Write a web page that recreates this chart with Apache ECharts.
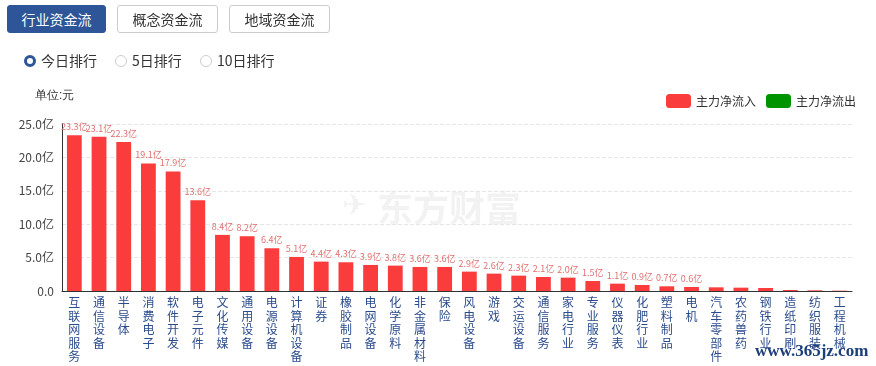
<!DOCTYPE html>
<html>
<head>
<meta charset="utf-8">
<script src="https://cdn.jsdelivr.net/npm/echarts@6/dist/echarts.min.js"></script>
<style>
html,body{margin:0;padding:0;background:#fff;font-family:"Noto Sans CJK SC","Microsoft YaHei",sans-serif;}
#wrap{position:relative;width:876px;height:366px;overflow:hidden;}
#chart{position:absolute;left:0;top:0;width:876px;height:366px;}
.btn{position:absolute;top:5px;height:28px;width:99px;border:1px solid #ccc;border-radius:3px;box-sizing:border-box;font-size:14px;line-height:26px;text-align:center;color:#333;background:#fff;}
.btn.on{background:#2e5597;border-color:#2e5597;color:#fff;}
.radio{position:absolute;top:51px;font-size:14px;color:#333;line-height:18px;}
.radio i{display:inline-block;width:12px;height:12px;border-radius:50%;border:1px solid #ccc;box-sizing:border-box;vertical-align:-1px;margin-right:5px;}
.radio.on i{border:3.5px solid #2e5597;}
</style>
</head>
<body>
<div id="wrap">
<div id="chart"></div>
<div class="btn on" style="left:7px">行业资金流</div>
<div class="btn" style="left:117px;width:101px">概念资金流</div>
<div class="btn" style="left:229px;width:101px">地域资金流</div>
<div class="radio on" style="left:24px"><i></i>今日排行</div>
<div class="radio" style="left:115px"><i></i>5日排行</div>
<div class="radio" style="left:200px"><i></i>10日排行</div>
</div>
<script>
var categories = ['互联网服务','通信设备','半导体','消费电子','软件开发','电子元件','文化传媒','通用设备','电源设备','计算机设备','证券','橡胶制品','电网设备','化学原料','非金属材料','保险','风电设备','游戏','交运设备','通信服务','家电行业','专业服务','仪器仪表','化肥行业','塑料制品','电机','汽车零部件','农药兽药','钢铁行业','造纸印刷','纺织服装','工程机械'];
var inflowValues = [23.3,23.1,22.3,19.1,17.9,13.6,8.4,8.2,6.4,5.1,4.4,4.3,3.9,3.8,3.6,3.6,2.9,2.6,2.3,2.1,2.0,1.5,1.1,0.9,0.7,0.6,0.55,0.5,0.45,0.15,0.1,0.05];
var unlabeledCount = 6;
var outflowValues = [];
var yTicks = [0,5,10,15,20,25];

var chart = echarts.init(document.getElementById('chart'));
var inflowData = inflowValues.map(function(v,i){
  var d = {value:v};
  if (i >= inflowValues.length - unlabeledCount) d.label = {show:false};
  return d;
});
chart.setOption({
  animation:false,
  textStyle:{fontFamily:'"Noto Sans CJK SC","Microsoft YaHei",sans-serif'},
  grid:{left:62,right:24,top:124,bottom:75,containLabel:false},
  legend:{
    right:15, top:89, itemWidth:25, itemHeight:14, itemGap:10, icon:'roundRect',
    textStyle:{fontSize:12,color:'#333'},
    data:['主力净流入','主力净流出']
  },
  graphic:[
    {type:'text',left:35,top:90,style:{text:'单位:元',fontSize:12,fill:'#333',font:'12px "Noto Sans CJK SC"'}},
    {type:'text',left:377,top:190,z:-1,style:{text:'东方财富',font:'bold 36px "Noto Sans CJK SC"',fill:'rgba(0,0,0,0.05)'}},
    {type:'text',left:342,top:192,z:-1,style:{text:'✈',font:'bold 30px "DejaVu Sans"',fill:'rgba(0,0,0,0.05)'}},
    {type:'text',left:755,top:343,z:10,style:{text:'www.365jz.com',font:'bold 17px "Liberation Serif"',fill:'#1d3f7a'}}
  ],
  xAxis:{
    type:'category', data:categories,
    axisLine:{lineStyle:{color:'#333'}},
    axisTick:{show:false},
    axisLabel:{
      interval:0, margin:5, fontSize:12, color:'#2b4c8c', lineHeight:13.5,
      formatter:function(v){return v.split('').join('\n');}
    }
  },
  yAxis:{
    type:'value', min:yTicks[0], max:yTicks[yTicks.length-1], interval:yTicks[1]-yTicks[0],
    axisLine:{show:true,lineStyle:{color:'#333'}},
    axisTick:{show:false},
    splitLine:{lineStyle:{type:'dashed',color:'#e6e6e6'}},
    axisLabel:{fontSize:12,color:'#444',margin:8,
      formatter:function(v){return v===0?'0.0':v.toFixed(1)+'亿';}}
  },
  series:[
    {name:'主力净流入',type:'bar',stack:'s',barWidth:'60%',data:inflowData,
      itemStyle:{color:'#fa3c3c'},
      label:{show:true,position:'top',distance:4,fontSize:9,color:'#e07070',
        formatter:function(p){return p.value.toFixed(1)+'亿';}}},
    {name:'主力净流出',type:'bar',stack:'s',barWidth:'60%',data:outflowValues,
      itemStyle:{color:'#009400'}}
  ]
});
</script>
</body>
</html>
